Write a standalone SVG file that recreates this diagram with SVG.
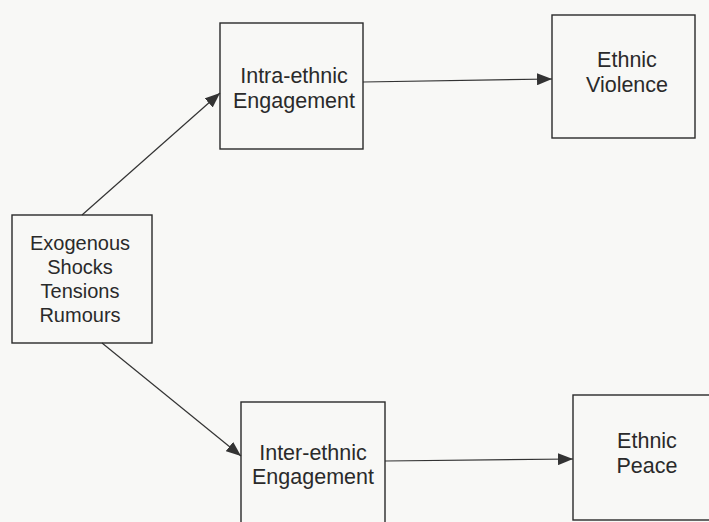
<svg xmlns="http://www.w3.org/2000/svg" width="709" height="522" viewBox="0 0 709 522">
<style>
.box{fill:none;stroke:#2a2a2a;stroke-width:1.4}
.lbl{font-family:"Liberation Sans",Arial,sans-serif;font-size:21.5px;fill:#2a2a2a;text-anchor:middle}
.sm{font-size:20px}
.conn{stroke:#333;stroke-width:1.2;fill:none}
</style>
<defs>
<marker id="ah" markerWidth="16" markerHeight="12" refX="15" refY="6" orient="auto" markerUnits="userSpaceOnUse">
<path d="M0,0 L15,6 L0,12 Z" fill="#333"/>
</marker>
</defs>
<rect width="709" height="522" fill="#f8f8f6"/>
<g id="connectors">
<line class="conn" x1="82" y1="215" x2="220" y2="93" marker-end="url(#ah)"/>
<line class="conn" x1="363" y1="82" x2="552" y2="79" marker-end="url(#ah)"/>
<line class="conn" x1="102" y1="343" x2="241" y2="456" marker-end="url(#ah)"/>
<line class="conn" x1="385" y1="461" x2="573" y2="459" marker-end="url(#ah)"/>
</g>
<g id="exogenous">
<rect class="box" x="12" y="215" width="140" height="128"/>
<text class="lbl sm" x="80" y="250">Exogenous</text>
<text class="lbl sm" x="80" y="274">Shocks</text>
<text class="lbl sm" x="80" y="298">Tensions</text>
<text class="lbl sm" x="80" y="322">Rumours</text>
</g>
<g id="intra">
<rect class="box" x="220" y="23" width="143" height="126"/>
<text class="lbl" x="294" y="83">Intra-ethnic</text>
<text class="lbl" x="294" y="108">Engagement</text>
</g>
<g id="violence">
<rect class="box" x="552" y="15" width="143" height="123"/>
<text class="lbl" x="627" y="67">Ethnic</text>
<text class="lbl" x="627" y="92">Violence</text>
</g>
<g id="inter">
<rect class="box" x="241" y="402" width="144" height="130"/>
<text class="lbl" x="313" y="460">Inter-ethnic</text>
<text class="lbl" x="313" y="484">Engagement</text>
</g>
<g id="peace">
<rect class="box" x="573" y="395" width="150" height="125"/>
<text class="lbl" x="647" y="448">Ethnic</text>
<text class="lbl" x="647" y="473">Peace</text>
</g>
</svg>
